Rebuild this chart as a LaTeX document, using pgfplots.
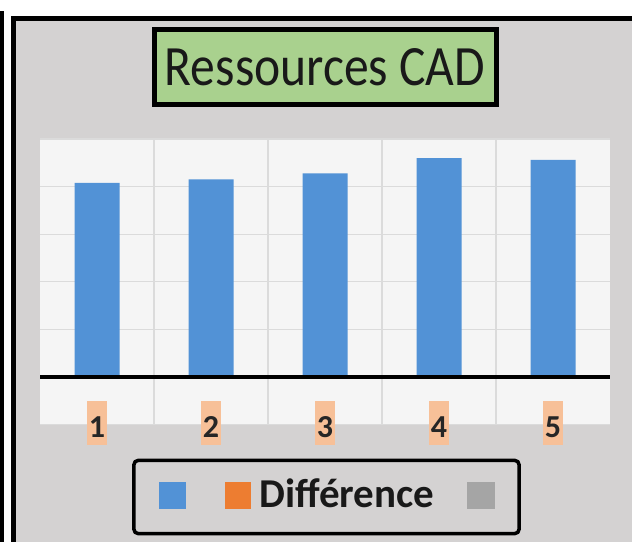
\documentclass[border=0pt]{standalone}
\usepackage{graphicx}
\usepackage{pgfplots}
\pgfplotsset{compat=1.18}
\usepackage{fontspec}
\setmainfont{Carlito}
\definecolor{panelgray}{RGB}{212,210,210}
\definecolor{plotbg}{RGB}{245,245,245}
\definecolor{gridc}{RGB}{219,219,219}
\definecolor{blueb}{RGB}{82,146,214}
\definecolor{orangel}{RGB}{247,192,152}
\definecolor{oranges}{RGB}{237,125,49}
\definecolor{grays}{RGB}{165,165,165}
\definecolor{greent}{RGB}{169,209,142}
\begin{document}
\begin{tikzpicture}[x=1pt,y=1pt]
\useasboundingbox (0,0) rectangle (632,541);
\clip (0,0) rectangle (632,541);
\fill[white] (0,0) rectangle (632,541);
\draw[black, line width=5pt, fill=panelgray] (13.5,-20) rectangle (660,522.5);
\draw[black, line width=4pt] (2,-5) -- (2,530);
\begin{axis}[
  at={(40pt,116.4pt)}, anchor=south west,
  scale only axis, width=570pt, height=285.6pt,
  xmin=0.5, xmax=5.5, ymin=-1, ymax=5,
  axis background/.style={fill=plotbg},
  axis line style={draw=none},
  tick style={draw=none},
  xtick={1,2,3,4,5}, xticklabels={1,2,3,4,5},
  ytick={-1,0,1,2,3,4,5}, yticklabels={},
  minor xtick={1.5,2.5,3.5,4.5},
  xminorgrids, ymajorgrids,
  major grid style={gridc, line width=1.3pt},
  minor grid style={gridc, line width=1.3pt},
  /pgf/number format/assume math mode=true,
  xticklabel style={anchor=base, yshift=-13.4pt, fill=orangel,
    inner xsep=1.4pt, inner ysep=0pt, text height=37pt, text depth=7pt,
    font=\fontsize{32}{38}\selectfont\bfseries, text=black!85},
  title={\scalebox{0.87}[1]{Ressources CAD}},
  title style={at={(0.5,1)}, anchor=center, yshift=66pt, fill=greent,
    draw=black, line width=5pt, minimum width=342pt, minimum height=75pt,
    inner sep=0pt, font=\fontsize{57}{66}\selectfont, text=black!90},
  legend columns=-1,
  legend style={at={(0.5,0)}, anchor=center, yshift=-72.4pt, xshift=1.5pt,
    draw=black, line width=3.5pt, rounded corners=4pt, fill=panelgray,
    inner sep=0pt, outer sep=0pt, /tikz/column sep=0pt,
    cells={anchor=base},
    nodes={inner sep=0pt, outer sep=0pt, text depth=0pt,
      font=\fontsize{41}{49}\selectfont\bfseries, text=black!90}},
]
\addplot[ybar, bar width=45pt, fill=blueb, draw=none, forget plot]
  coordinates {(1,4.08) (2,4.15) (3,4.28) (4,4.60) (5,4.56)};
\addplot[black, line width=4pt, forget plot]
  coordinates {(0.5,0) (5.5,0)};
\addlegendimage{legend image code/.code={
  \path (0,-24.75pt) (48.25pt,44.75pt);
  \fill[blueb, sharp corners] (25.25pt,0pt) rectangle (48.25pt,23pt);}}
\addlegendentry{}
\addlegendimage{legend image code/.code={
  \path (0,-24.75pt) (69pt,44.75pt);
  \fill[oranges, sharp corners] (38pt,0pt) rectangle (61pt,23pt);}}
\addlegendentry{Différence}
\addlegendimage{legend image code/.code={
  \path (0,-24.75pt) (80.25pt,44.75pt);
  \fill[grays, sharp corners] (33pt,0pt) rectangle (57pt,23pt);}}
\addlegendentry{}
\end{axis}
\end{tikzpicture}
\end{document}
